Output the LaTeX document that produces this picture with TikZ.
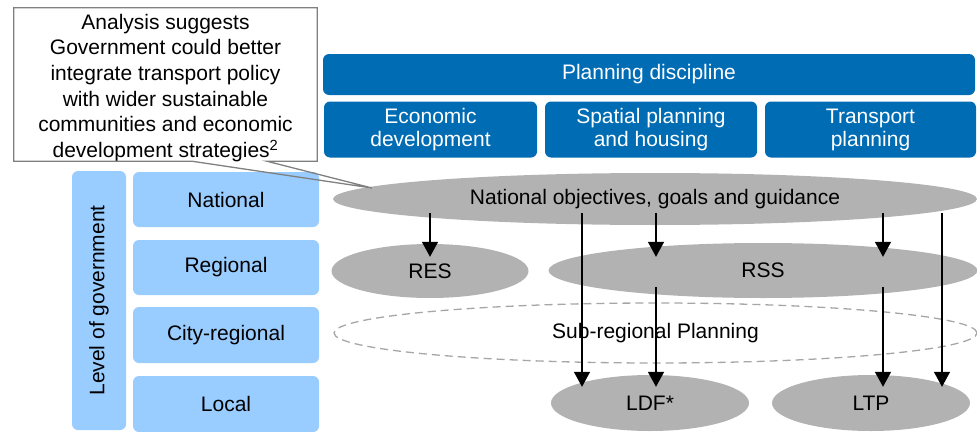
\documentclass[tikz,border=0pt]{standalone}
\usepackage{fontspec}
\setmainfont{Liberation Sans}
\usepackage{tikz}
\usetikzlibrary{shapes.geometric, arrows.meta, calc}

\definecolor{discblue}{RGB}{0,108,180}
\definecolor{levelblue}{RGB}{153,204,255}
\definecolor{plangrey}{RGB}{178,178,178}
\definecolor{dashgrey}{RGB}{166,166,166}
\definecolor{notegrey}{RGB}{128,128,128}

\begin{document}
\begin{tikzpicture}[x=1pt, y=-1pt, >={Triangle[width=16pt,length=15pt]},
    disc/.style={fill=discblue, rounded corners=6pt, text=white, align=center,
      inner sep=0pt, minimum height=56pt, font=\fontsize{21}{23}\selectfont},
    govrow/.style={fill=levelblue, rounded corners=6pt, inner sep=0pt,
      minimum width=186pt, minimum height=55pt, font=\fontsize{21}{24}\selectfont},
    plan/.style={ellipse, fill=plangrey, inner sep=0pt, minimum height=55pt,
      font=\fontsize{21}{24}\selectfont},
    flow/.style={->, line width=1.5pt}]

      \useasboundingbox (0,0) rectangle (977,431);

      % Planning discipline header
      \node[disc, minimum width=652pt, minimum height=41pt] (disc) at (649,74.5) {Planning discipline};
      \node[disc, minimum width=213pt] (econ) at (430.5,129.5) {Economic\\development};
      \node[disc, minimum width=212pt] (spatial) at (651,129.5) {Spatial planning\\and housing};
      \node[disc, minimum width=211pt] (transport) at (870.5,129.5) {Transport\\planning};

      % Level of government
      \node[govrow, minimum width=259pt, minimum height=54pt, rotate=90] (govlevel) at (99,300.5) {Level of government};
      \node[govrow] (national) at (226,199.5) {National};
      \node[govrow] (regional) at (226,267.5) {Regional};
      \node[govrow, minimum height=56pt] (city) at (226,335) {City-regional};
      \node[govrow, minimum height=56pt] (local) at (226,404) {Local};

      % Plans
      \node[plan, minimum width=644pt, minimum height=52pt] (nat) at (655,199) {National objectives, goals and guidance};
      \node[plan, minimum width=197pt, minimum height=54pt] (res) at (430,271) {RES};
      \node[plan, minimum width=429pt] (rss) at (763,270.5) {RSS};
      \node[ellipse, draw=dashgrey, dashed, dash pattern=on 8pt off 5pt, line width=1.3pt,
        inner sep=0pt, minimum width=643pt, minimum height=60pt,
        font=\fontsize{21}{24}\selectfont] (sub) at (655.5,333) {Sub-regional Planning};
      \node[plan, minimum width=198pt, minimum height=56pt] (ldf) at (650,403) {LDF*};
      \node[plan, minimum width=198pt, minimum height=56pt] (ltp) at (871,403) {LTP};

      % Lanes for the arrows
      \coordinate (laneA) at ($(ldf.north)+(-68,0)$);
      \coordinate (laneB) at ($(ldf.north)+(6,0)$);
      \coordinate (laneC) at ($(ltp.north)+(12,0)$);
      \coordinate (laneD) at ($(ltp.north)+(71,0)$);

      % Arrows
      \draw[flow] ([yshift=12pt]nat.south -| res.north) -- ([yshift=-13pt]res.north);
      \draw[flow] ([yshift=12pt]nat.south -| laneA) -- ([yshift=-12pt]ldf.north -| laneA);
      \draw[flow] ([yshift=12pt]nat.south -| laneB) -- ([yshift=-14pt]rss.north -| laneB);
      \draw[flow] ([yshift=11pt]rss.south -| laneB) -- ([yshift=-12pt]ldf.north -| laneB);
      \draw[flow] ([yshift=12pt]nat.south -| laneC) -- ([yshift=-14pt]rss.north -| laneC);
      \draw[flow] ([yshift=11pt]rss.south -| laneC) -- ([yshift=-12pt]ltp.north -| laneC);
      \draw[flow] ([yshift=12pt]nat.south -| laneD) -- ([yshift=-12pt]ltp.north -| laneD);

      % Annotation
      \node[align=center, inner sep=0pt, minimum width=303pt, minimum height=153pt,
        font=\fontsize{21}{25.7}\selectfont] (note) at (165.5,88)
        {Analysis suggests\\Government could better\\integrate transport policy\\with wider sustainable\\communities and economic\\development strategies\textsuperscript{2}};
      \coordinate (tip) at (372,188);
      \draw[notegrey, line width=1.3pt] ([yshift=3.5pt]note.north west) -- ([yshift=3.5pt]note.north east)
        -- ([yshift=3.5pt]note.south east) -- ($(note.south west)+(253,-3.5)$) -- (tip)
        -- ($(note.south west)+(178,-3.5)$) -- ([yshift=3.5pt]note.south west) -- cycle;

    \end{tikzpicture}
\end{document}
